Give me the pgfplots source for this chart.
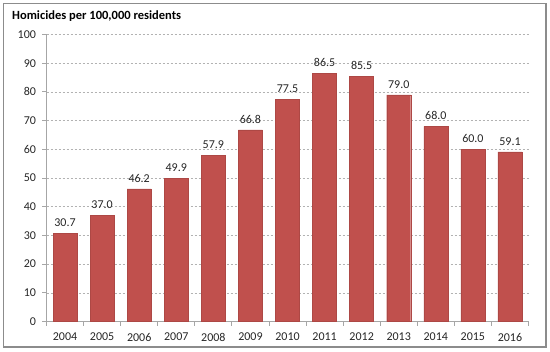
\documentclass[border=0pt]{standalone}
\usepackage{pgfplots}
\pgfplotsset{compat=1.18}
\usepackage{fontspec}
\setmainfont{Carlito}
\definecolor{barred}{HTML}{C0504D}
\definecolor{axgray}{HTML}{A6A6A6}
\begin{document}
\begin{tikzpicture}[x=1bp,y=1bp]
\path[use as bounding box] (0,0) rectangle (550,351);
\draw[color=gray!90, line width=1.2bp] (3.5,4) rectangle (546,347.5);
\node[anchor=base west, inner sep=0pt, font=\fontsize{12.5bp}{14bp}\selectfont\bfseries] at (12,331.5) {Homicides per 100,000 residents};
\begin{axis}[
  at={(46.5bp,29.5bp)}, anchor=south west,
  scale only axis, width=482bp, height=287bp,
  ymin=0, ymax=100, ytick={0,10,...,100},
  xmin=-0.5, xmax=12.5,
  xtick={0,...,12},
  xticklabels={2004,2005,2006,2007,2008,2009,2010,2011,2012,2013,2014,2015,2016},
  major x tick style={draw=none},
  minor xtick={-0.5,0.5,...,12.5},
  minor tick length=4bp,
  major tick length=4bp,
  tick align=outside,
  axis x line*=bottom, axis y line*=left,
  axis line style={axgray, line width=0.8bp, -},
  tick style={axgray, line width=0.8bp},
  ymajorgrids,
  grid style={gray!60, dash pattern=on 2bp off 2bp, line width=0.6bp},
  ticklabel style={font=\fontsize{12bp}{14bp}\selectfont, text=black!85},
  /pgf/number format/assume math mode=true,
  xticklabel style={yshift=-4bp},
  yticklabel style={xshift=-3bp},
  ybar, bar width=24bp, bar shift=0pt,
  nodes near coords,
  every node near coord/.append style={font=\fontsize{12bp}{14bp}\selectfont, text=black!85, yshift=3bp, /pgf/number format/.cd, fixed, fixed zerofill, precision=1},
  clip=false,
]
\addplot[fill=barred, draw=barred!90!black, line width=0.4bp] coordinates {
(0,30.7) (1,37.0) (2,46.2) (3,49.9) (4,57.9) (5,66.8) (6,77.5) (7,86.5) (8,85.5) (9,79.0) (10,68.0) (11,60.0) (12,59.1)};
\end{axis}
\end{tikzpicture}
\end{document}
